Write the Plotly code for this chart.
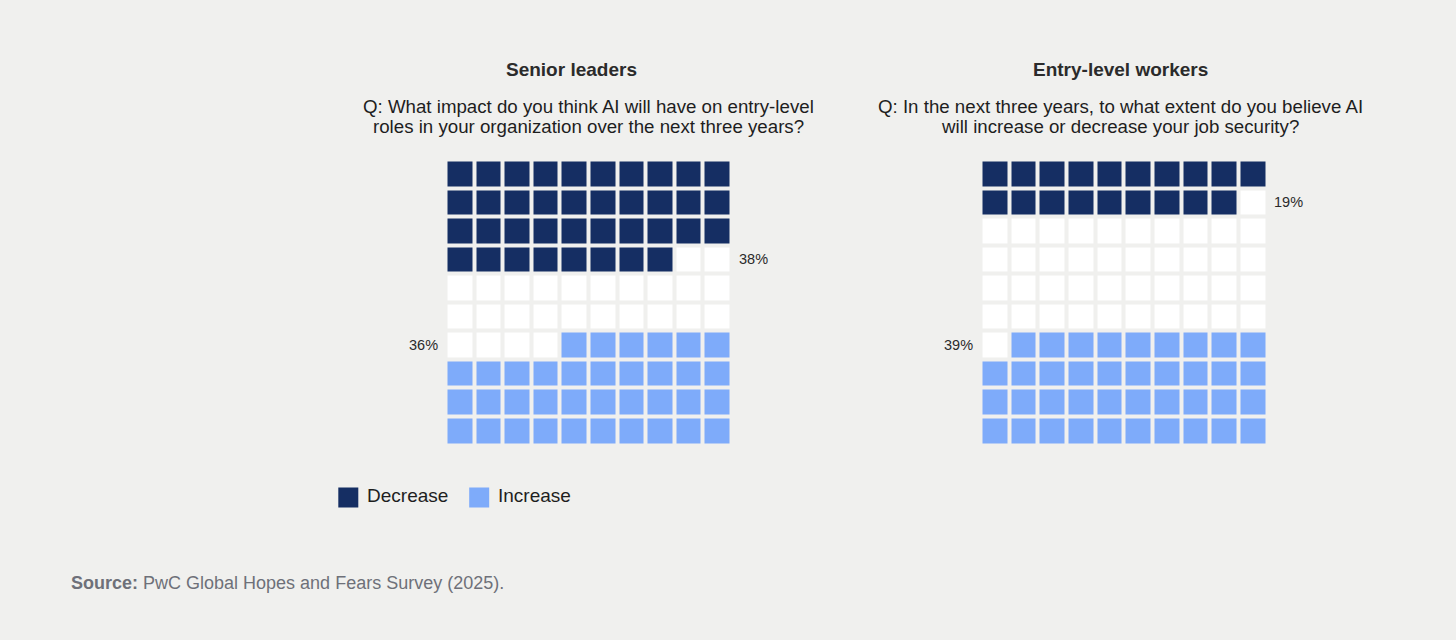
import plotly.graph_objects as go

# Data
panels = ["Senior leaders", "Entry-level workers"]
questions = [
    ["Q: What impact do you think AI will have on entry-level",
     "roles in your organization over the next three years?"],
    ["Q: In the next three years, to what extent do you believe AI",
     "will increase or decrease your job security?"],
]
decrease = [38, 19]
increase = [36, 39]
legend_labels = ["Decrease", "Increase"]

DARK = "#152e63"
LIGHT = "#7eabfa"
BG = "#f0f0ee"
W, H = 1456, 640


def waffle(dec, inc):
    z = []
    for r in range(10):
        row = []
        for c in range(10):
            i = r * 10 + c
            if i < dec:
                row.append(1)
            elif i >= 100 - inc:
                row.append(2)
            else:
                row.append(0)
        z.append(row)
    return z


colorscale = [[0, "#ffffff"], [0.333, "#ffffff"], [0.333, DARK], [0.667, DARK],
              [0.667, LIGHT], [1, LIGHT]]

fig = go.Figure()

# grid placement in pixels (left, right, top, bottom)
grids = [(445.5, 731.5, 159.5, 445.0), (980.5, 1267.0, 159.5, 445.0)]

for k in range(2):
    sfx = "" if k == 0 else "2"
    fig.add_trace(go.Heatmap(
        z=waffle(decrease[k], increase[k]),
        x=list(range(10)), y=list(range(10)),
        colorscale=colorscale, zmin=0, zmax=2, showscale=False,
        xgap=4, ygap=4, hoverinfo="skip",
        xaxis="x" + sfx, yaxis="y" + sfx,
    ))
    x0, x1, t, b = grids[k]
    ax = dict(domain=[x0 / W, x1 / W], range=[-0.5, 9.5], visible=False, fixedrange=True)
    ay = dict(domain=[1 - b / H, 1 - t / H], range=[9.5, -0.5], visible=False, fixedrange=True)
    fig.update_layout(**{"xaxis" + sfx: ax, "yaxis" + sfx: ay})
    if k == 1:
        fig.layout.yaxis2.anchor = "x2"
        fig.layout.xaxis2.anchor = "y2"

    # percent labels
    dec_row = (decrease[k] - 1) // 10
    inc_row = (100 - increase[k]) // 10
    fig.add_annotation(x=9.5, y=dec_row, xref="x" + sfx, yref="y" + sfx,
                       text=f"{decrease[k]}%", showarrow=False, xanchor="left",
                       xshift=5, font=dict(size=14.5, color="#2a2a2a"))
    fig.add_annotation(x=-0.5, y=inc_row, xref="x" + sfx, yref="y" + sfx,
                       text=f"{increase[k]}%", showarrow=False, xanchor="right",
                       xshift=-6, font=dict(size=14.5, color="#2a2a2a"))

# titles and questions
title_x = [571, 1120]
q_x = [588.5, 1120]
for k in range(2):
    fig.add_annotation(x=title_x[k] / W, y=1 - 69.5 / H, xref="paper", yref="paper",
                       text=f"<b>{panels[k]}</b>", showarrow=False,
                       xanchor="center", yanchor="middle",
                       font=dict(size=19, color="#2b2b2b"))
    for j, line in enumerate(questions[k]):
        fig.add_annotation(x=q_x[k] / W, y=1 - (106 + 20.5 * j) / H, xref="paper", yref="paper",
                           text=line, showarrow=False, xanchor="center", yanchor="middle",
                           font=dict(size=18.7, color="#1e1e1e"))

# legend
fig.add_trace(go.Scatter(
    x=list(range(len(legend_labels))), y=[0] * len(legend_labels),
    mode="markers+text", text=[" " + s for s in legend_labels],
    textposition="middle right",
    marker=dict(symbol="square", size=20, color=[DARK, LIGHT]),
    textfont=dict(size=19, color="#1e1e1e"),
    xaxis="x3", yaxis="y3", hoverinfo="skip", cliponaxis=False,
))
fig.update_layout(
    xaxis3=dict(domain=[348.3 / W, 479.2 / W], range=[0, 1], visible=False, anchor="y3", fixedrange=True),
    yaxis3=dict(domain=[1 - 507.5 / H, 1 - 487.5 / H], range=[-1, 1], visible=False, anchor="x3", fixedrange=True),
)

# source
fig.add_annotation(x=69 / W, y=1 - 583 / H, xref="paper", yref="paper",
                   text="<b>Source:</b> PwC Global Hopes and Fears Survey (2025).",
                   showarrow=False, xanchor="left", yanchor="middle",
                   font=dict(size=18, color="#6e7079"))

fig.update_layout(
    width=W, height=H,
    margin=dict(l=0, r=0, t=0, b=0),
    paper_bgcolor=BG, plot_bgcolor=BG,
    showlegend=False,
    font=dict(family="Liberation Sans, Arial, sans-serif"),
)

fig.write_html("out.html", config={"displayModeBar": False},
               post_script="document.body.style.margin='0';")
